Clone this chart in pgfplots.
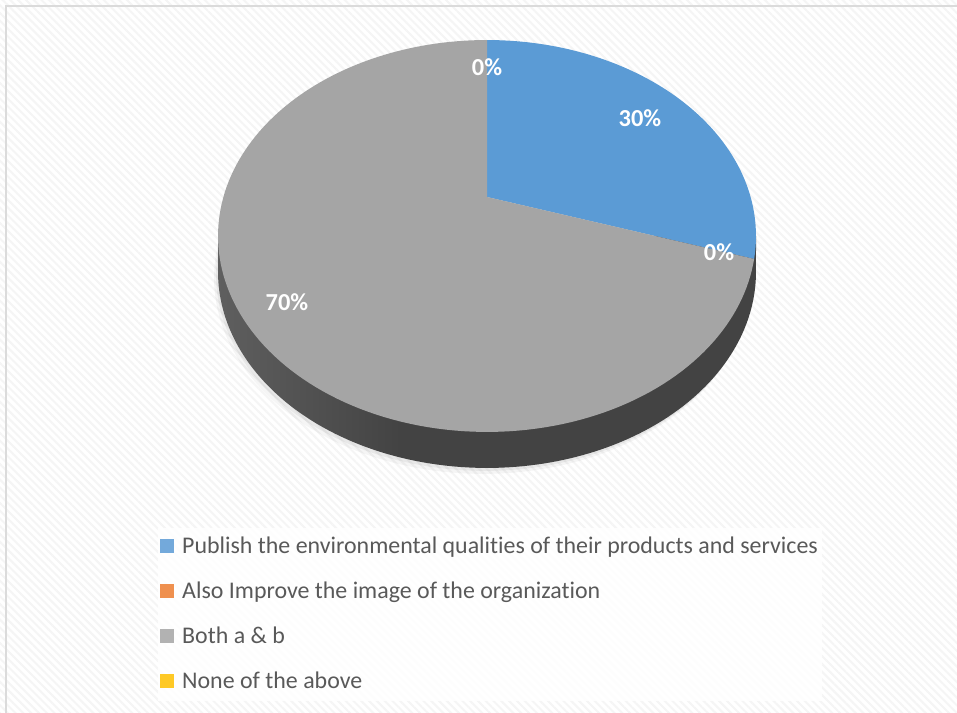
\documentclass[border=0pt]{standalone}
\usepackage{pgfplots}
\pgfplotsset{compat=1.18}
\usepackage{pgfplotstable}
\usepackage{fontspec}
\setmainfont{Carlito}[Ligatures=NoCommon]
\usetikzlibrary{patterns.meta}
\definecolor{cBlue}{HTML}{5B9BD5}
\definecolor{cOrange}{HTML}{ED7D31}
\definecolor{cGray}{HTML}{A5A5A5}
\definecolor{cYellow}{HTML}{FFC000}
\definecolor{txt}{HTML}{595959}
\definecolor{sideA}{HTML}{707070}
\definecolor{sideB}{HTML}{434343}
\pgfdeclarehorizontalshading{sideshade}{100bp}{color(0bp)=(sideA); color(20bp)=(sideA!80!sideB); color(42bp)=(sideB); color(100bp)=(sideB)}

\pgfplotstableread{
idx value
0 30
1 0
2 70
3 0
}\piedata

% perspective map of the pie's top face (angle in degrees)
\newcommand\PX[1]{487+263.6*cos(#1)/(1+0.199*sin(#1))}
\newcommand\PY[1]{516+188.2*sin(#1)/(1+0.199*sin(#1))}

\begin{document}
\begin{tikzpicture}
\pgfplotstablegetelem{0}{value}\of\piedata \let\vA\pgfplotsretval
\pgfplotstablegetelem{1}{value}\of\piedata \let\vB\pgfplotsretval
\pgfplotstablegetelem{2}{value}\of\piedata \let\vC\pgfplotsretval
\pgfplotstablegetelem{3}{value}\of\piedata \let\vD\pgfplotsretval
\pgfmathsetmacro{\tA}{90}
\pgfmathsetmacro{\tB}{\tA-3.6*\vA}
\pgfmathsetmacro{\tC}{\tB-3.6*\vB}
\pgfmathsetmacro{\tD}{\tC-3.6*\vC}
\begin{axis}[
  scale only axis, width=957bp, height=713bp,
  xmin=0, xmax=957, ymin=0, ymax=713,
  hide axis,
  legend style={at={(axis cs:158,185)}, anchor=north west,
    fill=white, fill opacity=0.85, text opacity=1, draw=none,
    font=\fontsize{24}{28}\selectfont, text=txt,
    row sep=19bp, inner xsep=2bp, inner ysep=6bp,
    nodes={inner sep=2bp, text height=17bp, text depth=5bp},
    /tikz/every even column/.append style={column sep=2bp},
    /tikz/every odd column/.append style={column sep=6bp}},
  legend cell align=left,
  legend image code/.code={\fill[#1, draw=none] (0bp,-5.5bp) rectangle (14bp,8.5bp);},
]
% background
\fill[white] (0,0) rectangle (957,713);
\fill[pattern={Lines[angle=-45,distance=5.5bp,line width=2bp]}, pattern color=black!4] (0,0) rectangle (957,713);
\draw[black!14, line width=1.6bp] (6,0) -- (6,707) -- (957,707);

% soft shadow
\addplot[forget plot, domain=0:360, samples=120, draw=none, fill=black, fill opacity=0.04] ({\PX{x}-4},{\PY{x}-42});
\addplot[forget plot, domain=0:360, samples=120, draw=none, fill=black, fill opacity=0.05] ({\PX{x}-2},{\PY{x}-39});

% side of the pie
\addplot[forget plot, domain=191.48:348.52, samples=120, draw=none, shade, shading=sideshade]
  ({\PX{x}},{\PY{x}-36}) -- (756,477) -- (218,477) -- cycle;

% top slices
\addplot[forget plot, domain=\tB:\tA, samples=80, draw=none, fill=cBlue]
  ({\PX{x}},{\PY{x}}) -- (487,516) -- cycle;
\addplot[forget plot, domain=\tD:\tC, samples=160, draw=none, fill=cGray]
  ({\PX{x}},{\PY{x}}) -- (487,516) -- cycle;

% data labels
\begin{scope}[every node/.style={font=\bfseries\fontsize{24.5}{24.5}\selectfont, text=white}]
\node at (487,646) {0\%};
\node at (640,595) {30\%};
\node at (719,461) {0\%};
\node at (287,411) {70\%};
\end{scope}

\addlegendimage{fill=cBlue}
\addlegendentry{Publish the environmental qualities of their products and services}
\addlegendimage{fill=cOrange}
\addlegendentry{Also Improve the image of the organization}
\addlegendimage{fill=cGray}
\addlegendentry{Both a \& b}
\addlegendimage{fill=cYellow}
\addlegendentry{None of the above}
\end{axis}
\end{tikzpicture}
\end{document}
